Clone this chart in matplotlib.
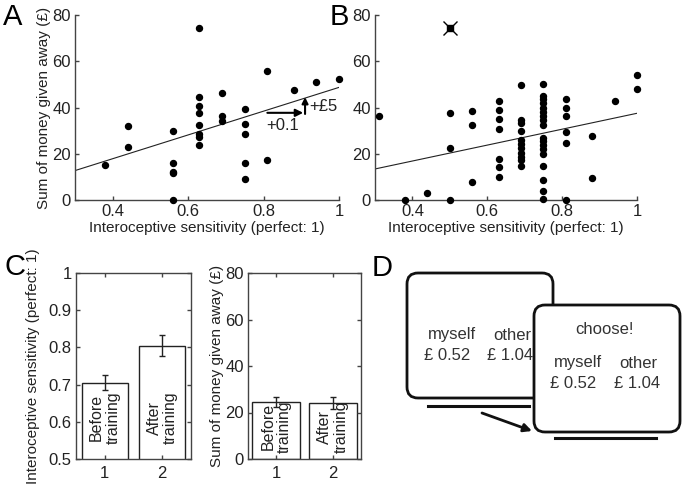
import matplotlib.pyplot as plt
import numpy as np
from matplotlib.patches import FancyBboxPatch

plt.rcParams['font.family'] = ['Liberation Sans', 'DejaVu Sans']
plt.rcParams['font.size'] = 11

# ---- data ----
# panel A: x columns and the y values at each column
a_cols = [0.38, 0.44, 0.56, 0.63, 0.69, 0.75, 0.81, 0.88, 0.94, 1.0]
a_vals = [[15], [32, 23], [30, 16, 12.3, 11.5, 0],
          [74.5, 44.7, 40.8, 37.5, 32.3, 28.5, 27.3, 24],
          [46.4, 36.5, 34.3], [39.2, 33, 28.6, 16.2, 8.9],
          [55.8, 17.2], [47.6], [50.9], [52.5]]
a_slope, a_icpt = 51.4, -2.7

# panel B
b_cols = [0.31, 0.38, 0.44, 0.50, 0.56, 0.63, 0.69, 0.75, 0.81, 0.88, 0.94, 1.0]
b_vals = [[36.4], [0], [3.2], [37.5, 22.3, 0], [38.6, 32.4, 7.9],
          [42.7, 39, 35.2, 30.8, 17.8, 14.4, 10.1],
          [49.7, 34.6, 33.2, 30, 25.9, 24.2, 22.4, 20.5, 18.7, 17.3, 14.8],
          [50, 45, 43.5, 42, 40, 38, 36.2, 34.5, 32.5, 27, 25.3, 23.6, 22, 20,
           14.5, 8.5, 4, 0.5],
          [43.5, 39.6, 36.3, 29.5, 24.5, 0], [27.8, 9.4], [42.9], [54.1, 47.9]]
b_outlier = (0.50, 74.2)
b_slope, b_icpt = 34.4, 3.1

# panel C
groups = [1, 2]
bar_labels = ['Before\ntraining', 'After\ntraining']
sens_mean = [0.705, 0.805]
sens_err = [0.02, 0.028]
money_mean = [24.5, 24.2]
money_err = [2.3, 2.5]

W, H = 685, 491
fig = plt.figure(figsize=(6.85, 4.91), dpi=100)


def box(l, t, r, b):
    return [l / W, 1 - b / H, (r - l) / W, (b - t) / H]


def flat(cols, vals):
    xs, ys = [], []
    for c, v in zip(cols, vals):
        xs += [c] * len(v)
        ys += v
    return np.array(xs), np.array(ys)


dark = '#222222'
axc = '#444444'


def style(ax, boxed=False):
    for s in ['top', 'right']:
        ax.spines[s].set_visible(boxed)
    for s in ax.spines.values():
        s.set_color(axc)
        s.set_linewidth(1)
    ax.tick_params(direction='in', length=3, width=1, colors=axc,
                   labelcolor=dark, labelsize=12, pad=3,
                   top=boxed, right=boxed)


def scatter_panel(rect, cols, vals, slope, icpt):
    ax = fig.add_axes(box(*rect))
    xs, ys = flat(cols, vals)
    ax.plot(xs, ys, 'o', color='k', ms=4.3, clip_on=False, zorder=3)
    lx = np.array([0.3, 1.0])
    ax.plot(lx, icpt + slope * lx, color=dark, lw=0.8)
    ax.set_xlim(0.3, 1.0)
    ax.set_ylim(0, 80)
    ax.set_xticks([0.4, 0.6, 0.8, 1.0])
    ax.set_xticklabels(['0.4', '0.6', '0.8', '1'])
    ax.set_yticks([0, 20, 40, 60, 80])
    ax.set_xlabel('Interoceptive sensitivity (perfect: 1)', color=dark,
                  labelpad=1)
    style(ax)
    return ax


axA = scatter_panel((75, 15, 339, 200), a_cols, a_vals, a_slope, a_icpt)
axA.set_ylabel('Sum of money given away (£)', color=dark, labelpad=1)
axA.annotate('', xy=(0.905, 37.7), xytext=(0.81, 37.7),
             arrowprops=dict(arrowstyle='-|>', color='k', lw=1.5,
                             mutation_scale=11, shrinkA=0, shrinkB=0))
axA.annotate('', xy=(0.91, 44.5), xytext=(0.91, 37.2),
             arrowprops=dict(arrowstyle='-|>', color='k', lw=1.5,
                             mutation_scale=9, shrinkA=0, shrinkB=0))
axA.text(0.85, 32.4, '+0.1', ha='center', va='center', color=dark, fontsize=12)
axA.text(0.958, 40.3, '+£5', ha='center', va='center', color=dark, fontsize=12)

axB = scatter_panel((375, 15, 637, 200), b_cols, b_vals, b_slope, b_icpt)
axB.plot(*b_outlier, 's', color='k', ms=4, zorder=4)
axB.plot(*b_outlier, 'x', color='k', ms=10, mew=1, zorder=4)


def bar_panel(rect, means, errs, ylim, yticks, yticklabels, width, text_y):
    ax = fig.add_axes(box(*rect))
    ax.bar(groups, means, width=width, color='white', edgecolor=dark, lw=1)
    ax.errorbar(groups, means, yerr=errs, fmt='none', ecolor=dark,
                elinewidth=1, capsize=2.5, capthick=1)
    for g, lab in zip(groups, bar_labels):
        ax.text(g, text_y, lab, rotation=90, ha='center', va='bottom',
                color=dark, linespacing=1.1, fontsize=11.5)
    ax.set_xlim(0.5, 2.5)
    ax.set_ylim(*ylim)
    ax.set_xticks(groups)
    ax.set_yticks(yticks)
    ax.set_yticklabels(yticklabels)
    style(ax, boxed=True)
    ax.tick_params(axis='x', pad=5)
    return ax


axC1 = bar_panel((76, 273, 191, 459), sens_mean, sens_err, (0.5, 1.0),
                 [0.5, 0.6, 0.7, 0.8, 0.9, 1.0],
                 ['0.5', '0.6', '0.7', '0.8', '0.9', '1'], 0.8, 0.54)
axC1.set_ylabel('Interoceptive sensitivity (perfect: 1)', color=dark,
                labelpad=6)
axC2 = bar_panel((248, 273, 361, 459), money_mean, money_err, (0, 80),
                 [0, 20, 40, 60, 80], ['0', '20', '40', '60', '80'], 0.85, 2.6)
axC2.set_ylabel('Sum of money given away (£)', color=dark, labelpad=1)

# ---- panel D drawing, in pixel coordinates ----
axD = fig.add_axes([0, 0, 1, 1], zorder=-1)
axD.set_xlim(0, W)
axD.set_ylim(H, 0)
axD.axis('off')

txt = '#333333'
back = FancyBboxPatch((407, 273), 146, 125,
                      boxstyle='round,pad=0,rounding_size=11',
                      fc='white', ec='#111111', lw=2, zorder=1)
axD.add_patch(back)
axD.plot([428, 529], [406, 406], color='#111111', lw=2.2, zorder=1)
axD.text(452, 335, 'myself', ha='center', va='center', fontsize=12, color=txt, zorder=1)
axD.text(512, 335, 'other', ha='center', va='center', fontsize=12, color=txt, zorder=1)
axD.text(447, 356, '£ 0.52', ha='center', va='center', fontsize=12, color=txt, zorder=1)
axD.text(510, 356, '£ 1.04', ha='center', va='center', fontsize=12, color=txt, zorder=1)

front = FancyBboxPatch((534, 305), 146, 127,
                       boxstyle='round,pad=0,rounding_size=11',
                       fc='white', ec='#111111', lw=2, zorder=2)
axD.add_patch(front)
axD.plot([555, 656], [438, 438], color='#111111', lw=2.2, zorder=2)
axD.text(605, 330, 'choose!', ha='center', va='center', fontsize=12, color=txt, zorder=3)
axD.text(578, 363, 'myself', ha='center', va='center', fontsize=12, color=txt, zorder=3)
axD.text(638, 363, 'other', ha='center', va='center', fontsize=12, color=txt, zorder=3)
axD.text(573, 384, '£ 0.52', ha='center', va='center', fontsize=12, color=txt, zorder=3)
axD.text(637, 384, '£ 1.04', ha='center', va='center', fontsize=12, color=txt, zorder=3)
axD.annotate('', xy=(532, 431), xytext=(482, 413),
             arrowprops=dict(arrowstyle='-|>', color='#111111', lw=2,
                             mutation_scale=12, shrinkA=0, shrinkB=0), zorder=3)

# panel letters
for lab, (px, py) in zip('ABCD', [(13, 17), (339, 17), (15, 267), (382, 268)]):
    fig.text(px / W, 1 - py / H, lab, fontsize=21, ha='center', va='center',
             color='k')

fig.savefig('out.png', dpi=100)
